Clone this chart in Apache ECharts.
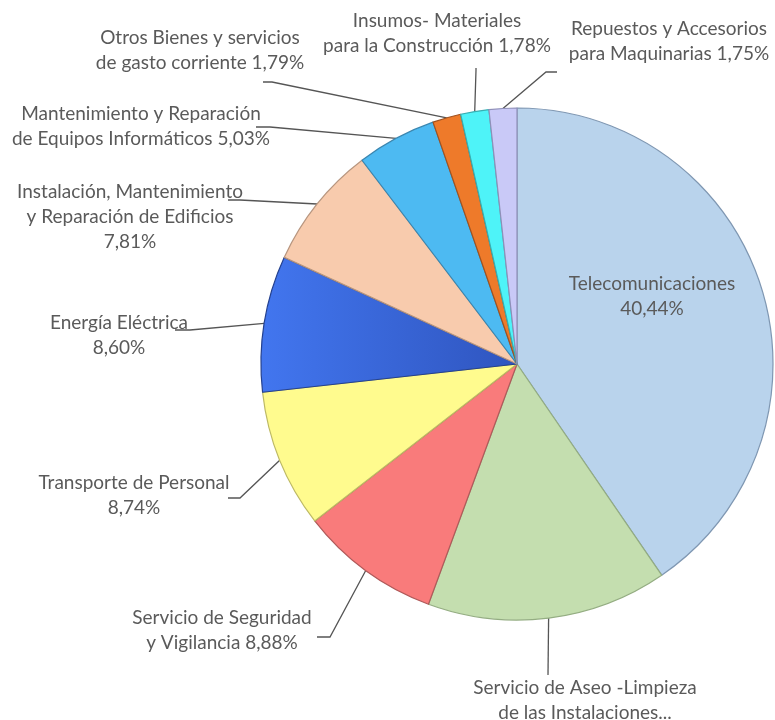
<!DOCTYPE html>
<html>
<head>
<meta charset="utf-8">
<script src="https://cdn.jsdelivr.net/npm/echarts@6/dist/echarts.min.js"></script>
<style>
  html, body { margin: 0; padding: 0; background: #ffffff; }
  #chart { width: 775px; height: 720px; }
</style>
</head>
<body>
<div id="chart"></div>
<script>
// Spending categories, clockwise from 12 o'clock
const categories = [
  'Telecomunicaciones',
  'Servicio de Aseo -Limpieza de las Instalaciones',
  'Servicio de Seguridad y Vigilancia',
  'Transporte de Personal',
  'Energía Eléctrica',
  'Instalación, Mantenimiento y Reparación de Edificios',
  'Mantenimiento y Reparación de Equipos Informáticos',
  'Otros Bienes y servicios de gasto corriente',
  'Insumos- Materiales para la Construcción',
  'Repuestos y Accesorios para Maquinarias'
];

// Share of total (%)
const values = [40.44, 15.18, 8.88, 8.74, 8.60, 7.81, 5.03, 1.79, 1.78, 1.75];

// Label text per slice; {v} is replaced by the formatted percentage
const labelTemplates = [
  'Telecomunicaciones\n{v}',
  'Servicio de Aseo -Limpieza\nde las Instalaciones...',
  'Servicio de Seguridad\ny Vigilancia {v}',
  'Transporte de Personal\n{v}',
  'Energía Eléctrica\n{v}',
  'Instalación, Mantenimiento\ny Reparación de Edificios\n{v}',
  'Mantenimiento y Reparación\nde Equipos Informáticos {v}',
  'Otros Bienes y servicios\nde gasto corriente {v}',
  'Insumos- Materiales\npara la Construcción {v}',
  'Repuestos y Accesorios\npara Maquinarias {v}'
];

const sliceColors = [
  '#b9d3ec', '#c4deaf', '#f97b7b', '#fffb8e',
  { type: 'linear', x: 0, y: 0, x2: 1, y2: 0,
    colorStops: [{ offset: 0, color: '#4276ef' }, { offset: 1, color: '#2f55bf' }] },
  '#f8cbad', '#4dbaf2', '#ee7a2a', '#4ef3f8', '#c9c9f7'
];
const sliceBorders = [
  '#7f97b2', '#94ad82', '#b05a5a', '#bdb964', '#24418f',
  '#b8967f', '#3a86b0', '#a05220', '#38aeb2', '#8f8fb8'
];

// Label block centres and leader-line bends (canvas px)
const labelCenters = [
  [652, 296], [585, 700], [222, 630], [134, 495], [119, 335],
  [130, 217], [141, 126], [200, 50], [437, 33], [669, 41]
];
const leaderBends = [
  null,
  [[548, 675], [548, 675]],
  [[330, 637], [317, 637]],
  [[240, 498], [228, 498]],
  [[190, 330], [175, 330]],
  [[240, 200], [228, 200]],
  [[270, 127], [256, 127]],
  [[272, 82], [263, 82]],
  [[476, 70], [476, 68]],
  [[546, 72], [557, 72]]
];

function fmtPct(v) {
  return v.toFixed(2).replace('.', ',') + '%';
}

const chart = echarts.init(document.getElementById('chart'), null, { renderer: 'canvas' });

const seriesData = categories.map((name, i) => ({
  name: name,
  value: values[i],
  itemStyle: { color: sliceColors[i], borderColor: sliceBorders[i] },
  labelLine: { show: i !== 0 }
}));

chart.setOption({
  animation: false,
  backgroundColor: '#ffffff',
  series: [{
    type: 'pie',
    center: [517, 364],
    radius: 256,
    startAngle: 90,
    clockwise: true,
    avoidLabelOverlap: false,
    data: seriesData,
    itemStyle: { borderWidth: 1.2 },
    label: {
      show: true,
      position: 'outside',
      formatter: (p) => labelTemplates[p.dataIndex].replace('{v}', fmtPct(p.value)),
      fontFamily: 'Lato',
      fontSize: 19,
      lineHeight: 25,
      color: '#5a5a5a',
      align: 'center'
    },
    labelLine: {
      show: true,
      lineStyle: { color: '#555555', width: 1.3 }
    },
    labelLayout: (params) => {
      const i = params.dataIndex;
      const c = labelCenters[i];
      const out = { x: c[0], y: c[1], align: 'center', verticalAlign: 'middle' };
      const bends = leaderBends[i];
      if (bends && params.labelLinePoints) {
        const start = params.labelLinePoints[0];
        out.labelLinePoints = [start, bends[0], bends[1]];
      }
      return out;
    }
  }]
});
</script>
</body>
</html>
